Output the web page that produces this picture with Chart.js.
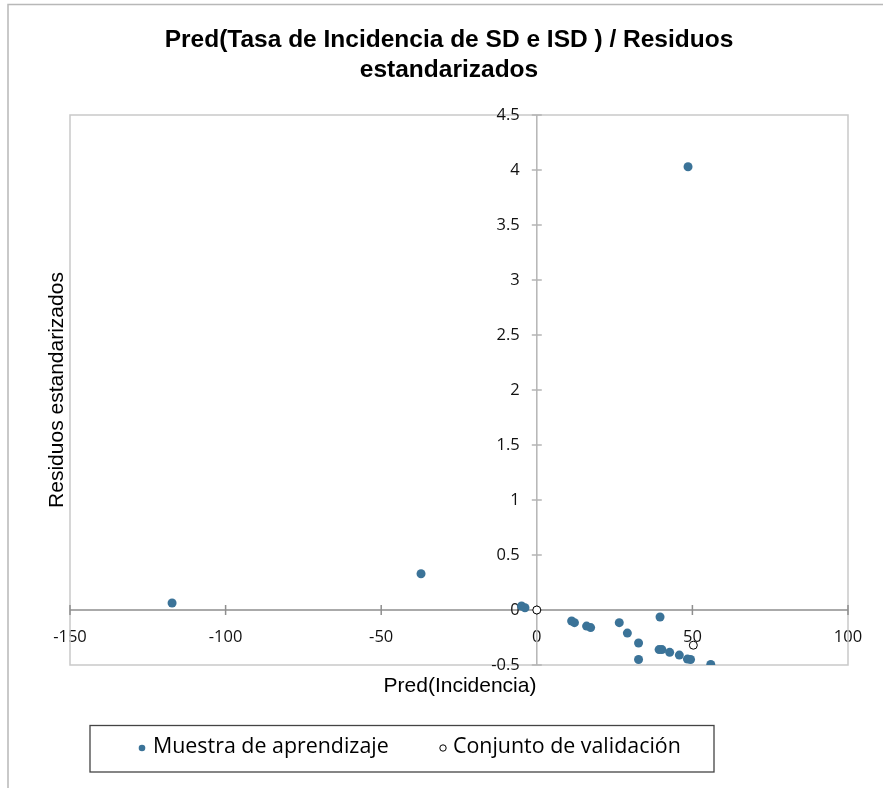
<!DOCTYPE html>
<html>
<head>
<meta charset="utf-8">
<script src="https://cdn.jsdelivr.net/npm/chart.js@4.4.1/dist/chart.umd.min.js"></script>
<style>
  html, body { margin: 0; padding: 0; background: #fff; }
  #wrap { width: 883px; height: 788px; position: relative; }
</style>
</head>
<body>
<div id="wrap"><canvas id="chart" width="883" height="788"></canvas></div>
<script>
"use strict"

// datos
const trainX = [-117.2, -37.2, -4.9, -3.8, 11.2, 12.1, 16.0, 17.3, 26.5, 29.1, 32.7, 32.7, 39.6, 39.3, 40.2, 42.7, 45.8, 48.4, 49.4, 55.9, 48.6];
const trainY = [0.064, 0.33, 0.036, 0.02, -0.10, -0.115, -0.146, -0.16, -0.115, -0.21, -0.30, -0.45, -0.064, -0.36, -0.36, -0.385, -0.41, -0.446, -0.45, -0.495, 4.03];
const validX = [0, 50.3];
const validY = [0, -0.32];

const xTicks = [-150, -100, -50, 0, 50, 100];
const yTicks = [-0.5, 0, 0.5, 1, 1.5, 2, 2.5, 3, 3.5, 4, 4.5];

const titleLines = ["Pred(Tasa de Incidencia de SD e ISD ) / Residuos", "estandarizados"];
const xTitle = "Pred(Incidencia)";
const yTitle = "Residuos estandarizados";
const seriesNames = ["Muestra de aprendizaje", "Conjunto de validación"];

const blue = '#3b7398';
const tickFont = '16.5px "Open Sans", sans-serif';

let toPoints = function(xs, ys){
    return xs.map((x, i) => ({x: x, y: ys[i]}));
}

// dibuja marco, titulos, marcas de eje y leyenda
const decor = {
    id: 'decor',
    beforeDatasetsDraw(chart){
        const ctx = chart.ctx;
        const a = chart.chartArea;
        const xs = chart.scales.x;
        const ys = chart.scales.y;
        ctx.save();
        // borde del area
        ctx.strokeStyle = '#c9c9c9';
        ctx.lineWidth = 1.5;
        ctx.strokeRect(a.left, a.top, a.right - a.left, a.bottom - a.top);
        // ejes en cero
        const y0 = ys.getPixelForValue(0);
        const x0 = xs.getPixelForValue(0);
        ctx.strokeStyle = '#b5b5b5';
        ctx.lineWidth = 1.5;
        ctx.beginPath();
        ctx.moveTo(x0, a.top); ctx.lineTo(x0, a.bottom);
        ctx.stroke();
        yTicks.forEach(v => {
            const p = ys.getPixelForValue(v);
            ctx.beginPath();
            ctx.moveTo(x0 - 5, p); ctx.lineTo(x0 + 5, p);
            ctx.stroke();
        });
        ctx.strokeStyle = '#8e8e8e';
        ctx.beginPath();
        ctx.moveTo(a.left, y0); ctx.lineTo(a.right, y0);
        ctx.stroke();
        xTicks.forEach(v => {
            const p = xs.getPixelForValue(v);
            ctx.beginPath();
            ctx.moveTo(p, y0 - 5); ctx.lineTo(p, y0 + 5);
            ctx.stroke();
        });
        // etiquetas del eje y, a la izquierda del eje en x = 0
        ctx.fillStyle = '#111';
        ctx.font = tickFont;
        ctx.textAlign = 'right';
        ctx.textBaseline = 'middle';
        ys.ticks.forEach(t => {
            ctx.fillText(String(t.value), x0 - 17, ys.getPixelForValue(t.value));
        });
        ctx.restore();
    },
    afterDraw(chart){
        const ctx = chart.ctx;
        const a = chart.chartArea;
        ctx.save();
        // marco exterior
        ctx.strokeStyle = '#b8b8b8';
        ctx.lineWidth = 1.5;
        ctx.beginPath();
        ctx.moveTo(8, 790); ctx.lineTo(8, 4.5); ctx.lineTo(890, 4.5);
        ctx.stroke();
        // titulo
        ctx.fillStyle = '#000';
        ctx.textAlign = 'center';
        ctx.textBaseline = 'middle';
        ctx.font = 'bold 24.5px "Liberation Sans", Arial, sans-serif';
        ctx.fillText(titleLines[0], 449, 40);
        ctx.fillText(titleLines[1], 449, 70);
        // titulos de ejes
        ctx.font = '21px "Liberation Sans", Arial, sans-serif';
        ctx.fillText(xTitle, 460, 686);
        ctx.save();
        ctx.translate(57, (a.top + a.bottom) / 2);
        ctx.rotate(-Math.PI / 2);
        ctx.fillText(yTitle, 0, 0);
        ctx.restore();
        // leyenda
        ctx.strokeStyle = '#444';
        ctx.lineWidth = 1.3;
        ctx.strokeRect(90, 725.5, 624, 46.5);
        ctx.font = '21.4px "Open Sans", sans-serif';
        ctx.textAlign = 'left';
        ctx.fillStyle = blue;
        ctx.beginPath();
        ctx.arc(142, 748, 3.3, 0, Math.PI * 2);
        ctx.fill();
        ctx.fillStyle = '#000';
        ctx.fillText(seriesNames[0], 153, 747);
        ctx.fillStyle = '#fff';
        ctx.strokeStyle = '#000';
        ctx.lineWidth = 1;
        ctx.beginPath();
        ctx.arc(443, 748, 3.2, 0, Math.PI * 2);
        ctx.fill();
        ctx.stroke();
        ctx.fillStyle = '#000';
        ctx.fillText(seriesNames[1], 453, 747);
        ctx.restore();
    }
};

window.onload = function(){
    const canvas = document.getElementById("chart");
    new Chart(canvas, {
        type: 'scatter',
        data: {
            datasets: [{
                label: seriesNames[0],
                data: toPoints(trainX, trainY),
                backgroundColor: blue,
                borderColor: blue,
                borderWidth: 0,
                pointRadius: 4.5
            }, {
                label: seriesNames[1],
                data: toPoints(validX, validY),
                backgroundColor: '#fff',
                borderColor: '#000',
                borderWidth: 1,
                pointRadius: 4
            }]
        },
        options: {
            responsive: false,
            animation: false,
            layout: {
                padding: {left: 70, right: 35, top: 115, bottom: 123}
            },
            plugins: {
                legend: {display: false},
                title: {display: false},
                tooltip: {enabled: false}
            },
            scales: {
                x: {
                    type: 'linear',
                    position: {y: 0},
                    min: -150,
                    max: 100,
                    afterBuildTicks: axis => { axis.ticks = xTicks.map(v => ({value: v})); },
                    grid: {display: false},
                    border: {display: false},
                    ticks: {
                        color: '#111',
                        padding: 9,
                        maxRotation: 0,
                        autoSkip: false,
                        callback: v => String(v),
                        font: {family: '"Open Sans", sans-serif', size: 16.5}
                    }
                },
                y: {
                    type: 'linear',
                    position: {x: 0},
                    min: -0.5,
                    max: 4.5,
                    afterBuildTicks: axis => { axis.ticks = yTicks.map(v => ({value: v})); },
                    grid: {display: false},
                    border: {display: false},
                    ticks: {display: false}
                }
            }
        },
        plugins: [decor]
    });
}
</script>
</body>
</html>
